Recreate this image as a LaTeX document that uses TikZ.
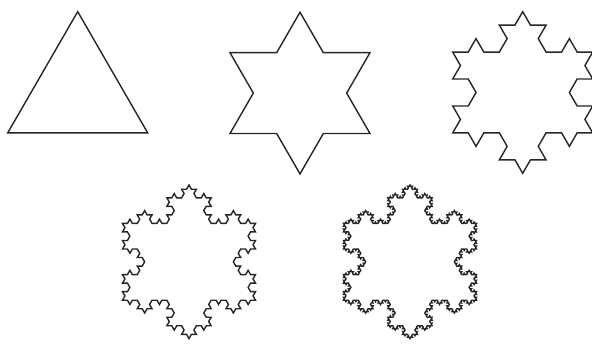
\documentclass[tikz,border=0pt]{standalone}
\usetikzlibrary{lindenmayersystems}
\pgfdeclarelindenmayersystem{Koch}{\rule{F -> F-F++F-F}}
\begin{document}
\begin{tikzpicture}[x=1pt,y=1pt,
  koch/.style={draw=black!85, line width=1.4pt, line join=miter}]
\useasboundingbox (0,0) rectangle (592,349);
\fill[white] (0,0) rectangle (592,349);
% order 0
\begin{scope}[shift={(7.7,216.1)}]
\draw[koch, lindenmayer system={Koch, axiom=F++F++F, order=0, step=140pt, angle=60}] (0,0) lindenmayer system -- cycle;
\end{scope}
% order 1
\begin{scope}[shift={(230,215.5)}]
\draw[koch, lindenmayer system={Koch, axiom=F++F++F, order=1, step=46.667pt, angle=60}] (0,0) lindenmayer system -- cycle;
\end{scope}
% order 2
\begin{scope}[shift={(452.7,216.1)}]
\draw[koch, lindenmayer system={Koch, axiom=F++F++F, order=2, step=15.556pt, angle=60}] (0,0) lindenmayer system -- cycle;
\end{scope}
% order 3
\begin{scope}[shift={(122.5,48.8)}]
\draw[koch, lindenmayer system={Koch, axiom=F++F++F, order=3, step=4.926pt, angle=60}] (0,0) lindenmayer system -- cycle;
\end{scope}
% order 4
\begin{scope}[shift={(343.5,48.8)}]
\draw[koch, lindenmayer system={Koch, axiom=F++F++F, order=4, step=1.642pt, angle=60}] (0,0) lindenmayer system -- cycle;
\end{scope}
\end{tikzpicture}
\end{document}
